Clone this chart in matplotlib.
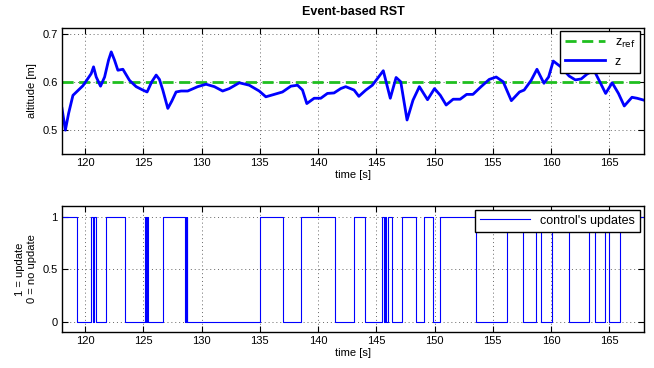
import matplotlib
matplotlib.use('Agg')
import matplotlib.pyplot as plt
import numpy as np

plt.rcParams['font.family'] = ['Liberation Sans', 'DejaVu Sans']
plt.rcParams['font.size'] = 8

# altitude
t_z = [118.0, 118.09, 118.29, 118.57, 118.94, 119.37, 119.8, 120.23, 120.51, 120.71,
       120.94, 121.31, 121.66, 122.0, 122.23, 122.51, 122.8, 123.23, 123.8, 124.37,
       124.94, 125.31, 125.71, 126.09, 126.37, 126.66, 127.09, 127.43, 127.8, 128.23,
       128.8, 129.66, 130.37, 131.09, 131.8, 132.37, 133.23, 134.09, 134.94, 135.51,
       136.23, 136.94, 137.66, 138.23, 138.66, 139.03, 139.66, 140.23, 140.8, 141.37,
       141.94, 142.37, 143.09, 143.5, 144.1, 144.66, 145.1, 145.6, 146.2, 146.7,
       147.1, 147.64, 148.15, 148.7, 149.4, 150.0, 150.5, 151.0, 151.6, 152.2,
       152.76, 153.3, 154.0, 154.7, 155.3, 155.9, 156.6, 157.3, 157.7, 158.3,
       158.8, 159.4, 159.8, 160.2, 160.85, 161.56, 162.1, 162.6, 163.1, 163.7,
       164.2, 164.7, 165.26, 165.8, 166.3, 166.96, 167.4, 168.0]
z = [0.545, 0.531, 0.500, 0.535, 0.572, 0.582, 0.592, 0.607, 0.617, 0.631,
     0.610, 0.591, 0.610, 0.645, 0.662, 0.645, 0.624, 0.626, 0.603, 0.590,
     0.583, 0.579, 0.600, 0.614, 0.605, 0.583, 0.545, 0.560, 0.579, 0.581,
     0.581, 0.590, 0.595, 0.590, 0.581, 0.586, 0.598, 0.593, 0.581, 0.569,
     0.574, 0.579, 0.591, 0.593, 0.583, 0.555, 0.566, 0.566, 0.576, 0.577,
     0.586, 0.590, 0.583, 0.570, 0.583, 0.593, 0.607, 0.623, 0.566, 0.609,
     0.600, 0.521, 0.562, 0.590, 0.563, 0.586, 0.572, 0.552, 0.564, 0.564,
     0.574, 0.574, 0.590, 0.605, 0.610, 0.600, 0.561, 0.579, 0.583, 0.603,
     0.626, 0.597, 0.610, 0.643, 0.631, 0.612, 0.604, 0.606, 0.616, 0.624,
     0.600, 0.576, 0.598, 0.576, 0.550, 0.568, 0.566, 0.562]
z_ref = 0.6

# control's updates: switching instants and the state after each
t_u = [118.0, 119.29, 120.51, 120.69, 120.72, 120.88, 121.80, 123.43, 125.15, 125.24,
       125.27, 125.37, 126.70, 128.58, 128.62, 128.66, 128.70, 128.75, 135.01, 137.00,
       138.50, 141.48, 143.09, 144.05, 145.45, 145.62, 145.74, 145.82, 146.01, 146.39,
       147.19, 148.39, 149.10, 149.87, 150.45, 153.53, 156.25, 157.59, 158.68, 159.11,
       160.11, 161.54, 163.25, 163.82, 164.68, 164.97, 165.97, 168.0]
u = [1, 0, 1, 0, 1, 0, 1, 0, 1, 0,
     1, 0, 1, 0, 1, 0, 1, 0, 1, 0,
     1, 0, 1, 0, 1, 0, 1, 0, 1, 0,
     1, 0, 1, 0, 1, 0, 1, 0, 1, 0,
     1, 0, 1, 0, 1, 0, 1, 1]

fig = plt.figure(figsize=(6.54, 3.68), dpi=100)
ax1 = fig.add_axes([0.0948, 0.5807, 0.89, 0.344])
ax2 = fig.add_axes([0.0948, 0.0978, 0.89, 0.3424])

ax1.plot([118, 168], [z_ref, z_ref], '--', color='#1fbf1f', lw=2, dashes=(4, 2), label=r'z$_{\mathrm{ref}}$')
ax1.plot(t_z, z, color='#0000ff', lw=2, solid_joinstyle='round', label='z')
ax1.set_xlim(118, 168)
ax1.set_ylim(0.45, 0.712)
ax1.set_yticks([0.5, 0.6, 0.7])
ax1.set_title('Event-based RST', fontsize=9, fontweight='bold', pad=9)
ax1.set_ylabel('altitude [m]')
ax1.set_xlabel('time [s]', labelpad=1)
ax1.legend(loc='upper right', fontsize=9, fancybox=False, edgecolor='black',
           framealpha=1, borderaxespad=0.3, handlelength=3.2)

ax2.step(t_u, u, where='post', color='#0000ff', lw=0.8, label="control's updates")
ax2.set_xlim(118, 168)
ax2.set_ylim(-0.1, 1.1)
ax2.set_yticks([0, 0.5, 1])
ax2.set_yticklabels(['0', '0.5', '1'])
ax2.set_ylabel('1 = update\n0 = no update')
ax2.set_xlabel('time [s]', labelpad=1)
ax2.legend(loc='upper right', fontsize=9, fancybox=False, edgecolor='black',
           framealpha=1, borderaxespad=0.3, handlelength=4)

for ax in (ax1, ax2):
    ax.set_xticks(np.arange(120, 170, 5))
    ax.grid(True, linestyle=(0, (1, 3)), color='#666666', lw=0.7)
    ax.tick_params(direction='in', top=True, right=True, length=4, width=0.8, pad=3)
    for sp in ax.spines.values():
        sp.set_linewidth(1.0)

fig.savefig('out.png', dpi=100)
